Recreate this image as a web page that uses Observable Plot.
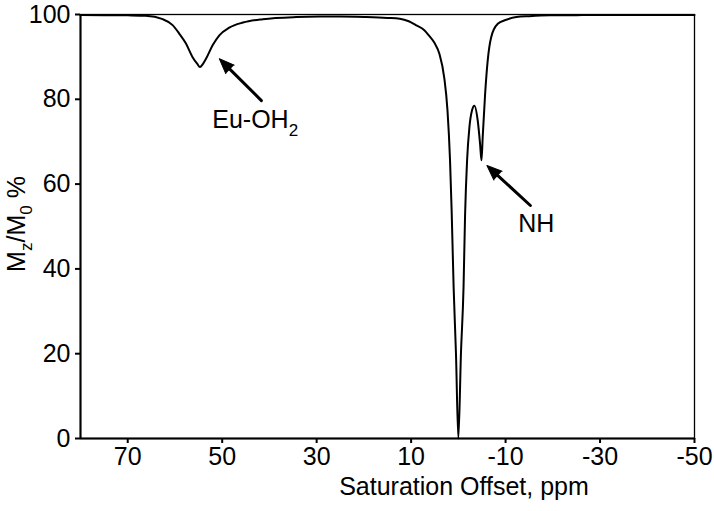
<!DOCTYPE html>
<html>
<head>
<meta charset="utf-8">
<script src="https://cdn.jsdelivr.net/npm/d3@7"></script>
<script src="https://cdn.jsdelivr.net/npm/@observablehq/plot@0.6"></script>
<style>
  html, body { margin: 0; padding: 0; background: #fff; }
  #chart { width: 714px; height: 511px; }
</style>
</head>
<body>
<div id="chart"></div>
<script>
// ---- Data ----
const offsetPpm = [80, 75, 70, 66.2, 62.6, 60.5, 59.1, 57.7, 56.3, 55.3, 54.7, 54.1, 53.4, 52.0, 50.6, 48.5, 45.6, 41.4, 34.3, 29.4, 25, 20, 15, 12.4, 10.5, 9.0, 7.2, 6.2, 5.0, 4.0, 3.0, 2.3, 1.76, 1.42, 1.0, 0.5, 0, -0.55, -1.1, -1.42, -1.85, -2.34, -2.9, -3.4, -4.1, -4.6, -4.9, -5.16, -5.67, -6.22, -6.94, -8.35, -10, -12.3, -15, -19.4, -25, -30, -40, -50];
const mzPercent = [99.9, 99.85, 99.8, 99.7, 98.9, 97.5, 95.5, 93.2, 90.0, 88.4, 87.6, 88.3, 89.6, 92.8, 95.1, 96.9, 98.1, 98.9, 99.4, 99.5, 99.5, 99.4, 99.2, 99.0, 98.4, 97.5, 96.3, 95.0, 93.2, 90.7, 85.2, 77.4, 65.6, 53.8, 35.7, 20, 0, 20, 35.7, 52.5, 65.6, 73.4, 77.4, 78.5, 75.0, 69.5, 65.6, 71.1, 81.3, 89.2, 94.6, 97.8, 98.7, 99.4, 99.6, 99.8, 99.85, 99.9, 99.9, 99.9];

const xTicks = [70, 50, 30, 10, -10, -30, -50];
const yTicks = [0, 20, 40, 60, 80, 100];
const xAxisLabel = "Saturation Offset, ppm";
const xLabelPpm = -1.3;

// annotations (data units)
const arrowTailPpm = [41.7, -15.25];
const arrowTailMz  = [79.7, 54.95];
const arrowTipPpm  = [50.6, -6.05];
const arrowTipMz   = [89.55, 64.4];
const labelPpm = [52.0, -12.77];
const labelMz  = [73.04, 48.66];
const labelMain = ["Eu-OH", "NH"];
const labelSub  = ["2", ""];

// ---- Layout ----
const W = 714, H = 511, mL = 80, mR = 20, mT = 14, mB = 73;
const FS = 25, FSsub = 17;
const xDomain = [80, -50];
const yDomain = [0, 100];
const pxPerPpm = (W - mL - mR) / (xDomain[1] - xDomain[0]);
const pxPerMz = -(H - mT - mB) / (yDomain[1] - yDomain[0]);

const curveData = offsetPpm.map((x, i) => ({x, y: mzPercent[i]}));
const arrows = arrowTipPpm.map((_, i) => {
  const dx = (arrowTipPpm[i] - arrowTailPpm[i]) * pxPerPpm;
  const dy = (arrowTipMz[i] - arrowTailMz[i]) * pxPerMz;
  return {
    x1: arrowTailPpm[i], y1: arrowTailMz[i],
    x2: arrowTipPpm[i], y2: arrowTipMz[i],
    angle: Math.atan2(dx, -dy) * 180 / Math.PI
  };
});

const plot = Plot.plot({
  width: W, height: H,
  marginLeft: mL, marginRight: mR, marginTop: mT, marginBottom: mB,
  style: {
    fontFamily: '"Liberation Sans", Arial, Helvetica, sans-serif',
    fontSize: FS + "px",
    color: "black",
    background: "white",
    overflow: "visible"
  },
  x: {domain: xDomain, label: null},
  y: {domain: yDomain, label: null},
  marks: [
    Plot.frame({stroke: "black", strokeWidth: 1.3}),
    Plot.axisX({ticks: xTicks, tickFormat: d => String(d), tickSize: 5, tickPadding: 4, strokeWidth: 2, fontSize: FS, label: null}),
    Plot.axisY({ticks: yTicks, tickFormat: d => String(d), tickSize: 5, tickPadding: 5, strokeWidth: 2, fontSize: FS, label: null}),
    Plot.ruleX([xDomain[0]], {stroke: "black", strokeWidth: 2}),
    Plot.ruleY([yDomain[0]], {stroke: "black", strokeWidth: 2}),
    Plot.line(curveData, {x: "x", y: "y", stroke: "black", strokeWidth: 2, curve: "monotone-x"}),
    Plot.arrow(arrows, {x1: "x1", y1: "y1", x2: "x2", y2: "y2", stroke: "black", strokeWidth: 3, headLength: 0, insetEnd: 9}),
    Plot.vector(arrows, {x: "x2", y: "y2", rotate: "angle", length: 15, r: 6, shape: "spike", anchor: "end", fill: "black", stroke: "black", strokeWidth: 1})
  ]
});

document.getElementById("chart").appendChild(plot);

const svg = d3.select(plot);
const sx = plot.scale("x"), sy = plot.scale("y");

// x-axis label (baseline placed below the tick labels)
svg.append("text")
  .attr("x", sx.apply(xLabelPpm))
  .attr("y", H - mB + 57)
  .attr("text-anchor", "middle")
  .attr("font-size", FS)
  .attr("fill", "black")
  .text(xAxisLabel);

// y-axis label with subscripts
const yl = svg.append("text")
  .attr("transform", `translate(25,${(mT + H - mB) / 2 - 2}) rotate(-90)`)
  .attr("text-anchor", "middle")
  .attr("font-size", FS)
  .attr("fill", "black");
yl.append("tspan").text("M");
yl.append("tspan").attr("font-size", FSsub).attr("dy", 7).text("z");
yl.append("tspan").attr("dy", -7).text("/M");
yl.append("tspan").attr("font-size", FSsub).attr("dy", 7).text("0");
yl.append("tspan").attr("dy", -7).text(" %");

// annotation labels
labelMain.forEach((t, i) => {
  const el = svg.append("text")
    .attr("x", sx.apply(labelPpm[i]))
    .attr("y", sy.apply(labelMz[i]))
    .attr("text-anchor", "start")
    .attr("font-size", FS)
    .attr("fill", "black");
  el.append("tspan").text(t);
  if (labelSub[i]) el.append("tspan").attr("font-size", FSsub).attr("dy", 8).text(labelSub[i]);
});
</script>
</body>
</html>
